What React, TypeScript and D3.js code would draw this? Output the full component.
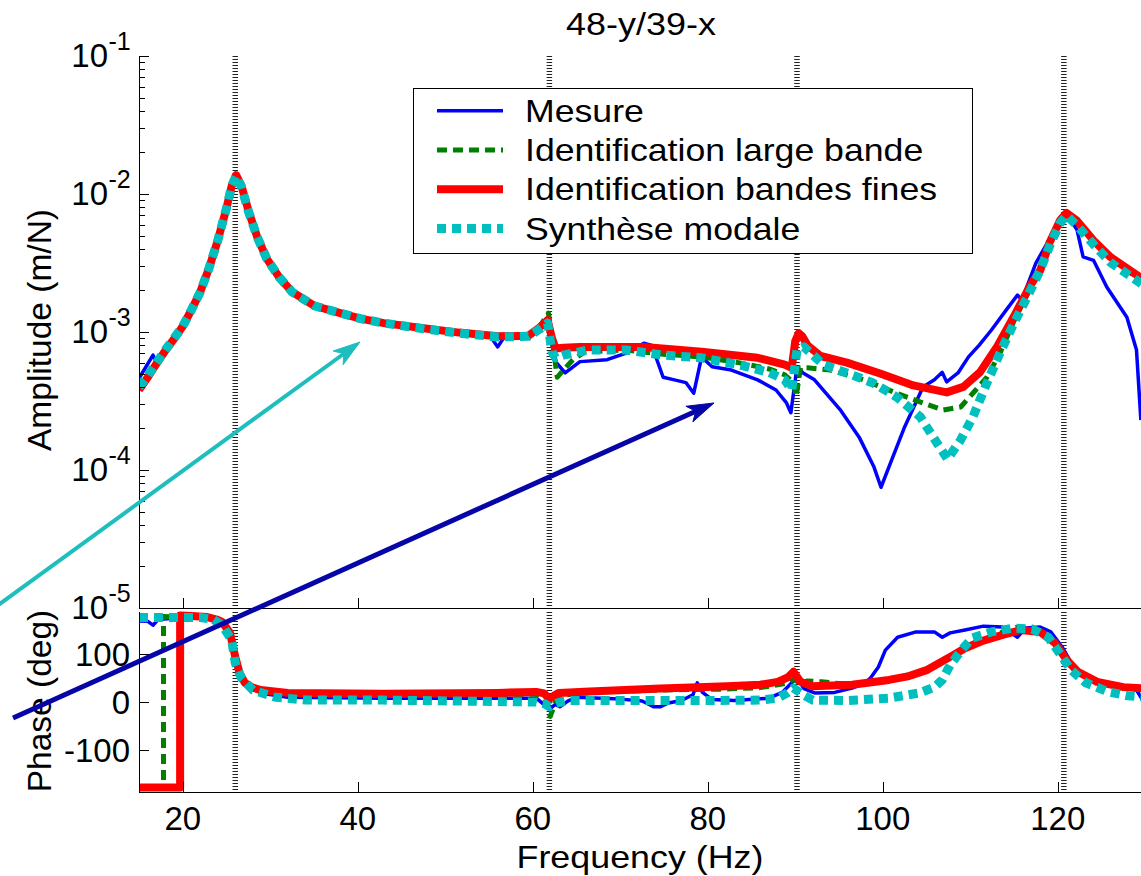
import React from 'react';
import * as d3 from 'd3';

type P = [number, number];

// ---------- data (frequency Hz, amplitude m/N) ----------
const AMP_MESURE: P[] = [
  [15, 4.6e-4], [15.8, 5.6e-4], [16.6, 6.8e-4], [17.1, 5.8e-4], [18, 7.3e-4], [19, 9.0e-4],
  [20, 1.12e-3], [21, 1.47e-3], [22, 1.97e-3], [23, 2.9e-3], [24, 4.6e-3], [25, 7.9e-3],
  [25.6, 1.15e-2], [26.1, 1.37e-2], [26.7, 1.15e-2], [27.5, 7.6e-3], [28.5, 4.9e-3],
  [29.6, 3.4e-3], [31, 2.5e-3], [32.5, 1.95e-3], [35, 1.56e-3], [37.5, 1.41e-3],
  [40.3, 1.26e-3], [43, 1.17e-3], [47.3, 1.06e-3], [51.6, 9.8e-4], [55.2, 9.2e-4],
  [56, 7.8e-4], [56.7, 9.1e-4], [59.5, 9.3e-4], [60.8, 1.07e-3], [61.7, 1.2e-3],
  [62.2, 8.0e-4], [62.7, 6.0e-4], [63.7, 5.05e-4], [65.4, 6.1e-4], [68.5, 6.3e-4],
  [70.6, 7.0e-4], [72.7, 8.3e-4], [73.6, 8.0e-4], [74.9, 4.7e-4], [76.2, 4.5e-4],
  [77.5, 4.3e-4], [78.4, 3.6e-4], [79.3, 6.6e-4], [80.5, 5.6e-4], [82.7, 5.3e-4],
  [85.7, 4.5e-4], [87.8, 3.8e-4], [89, 3.06e-4], [89.5, 2.6e-4], [90.2, 5.6e-4],
  [90.9, 5.05e-4], [92.2, 4.5e-4], [95.2, 2.7e-4], [97.3, 1.73e-4], [99, 1.05e-4],
  [99.8, 7.5e-5], [100.7, 1.05e-4], [102.5, 2.05e-4], [104.6, 4.0e-4], [105.9, 4.5e-4],
  [106.8, 5.1e-4], [107.3, 4.35e-4], [108.6, 5.05e-4], [109.8, 6.6e-4], [111, 8.0e-4],
  [112.4, 1.03e-3], [114.1, 1.44e-3], [115.4, 1.85e-3], [115.9, 1.71e-3], [117.5, 3.16e-3],
  [119, 4.64e-3], [121, 7.28e-3], [121.6, 6.3e-3], [122.2, 5.5e-3], [122.9, 3.5e-3],
  [124.1, 3.3e-3], [125.6, 2.12e-3], [127.9, 1.28e-3], [129, 7.4e-4], [129.5, 2.3e-4],
];

const AMP_LARGE: P[] = [
  [15, 3.9e-4], [16, 4.7e-4], [17, 5.9e-4], [18, 7.3e-4], [19, 8.9e-4], [20, 1.1e-3],
  [21, 1.45e-3], [22, 1.95e-3], [23, 2.9e-3], [24, 4.6e-3], [25, 7.9e-3], [25.6, 1.15e-2],
  [26.1, 1.37e-2], [26.7, 1.15e-2], [27.5, 7.6e-3], [28.5, 4.9e-3], [29.6, 3.4e-3],
  [31, 2.5e-3], [32.5, 1.95e-3], [35, 1.55e-3], [37.5, 1.4e-3], [40.3, 1.25e-3],
  [43, 1.16e-3], [47.3, 1.07e-3], [51.6, 9.9e-4], [56, 9.3e-4], [59.5, 9.4e-4],
  [60.8, 1.1e-3], [61.8, 1.37e-3], [62.3, 8.0e-4], [62.8, 4.7e-4], [63.5, 5.3e-4],
  [64.6, 6.3e-4], [66, 7.2e-4], [70.6, 7.4e-4], [74.9, 6.9e-4], [79.3, 6.6e-4],
  [83.5, 6.0e-4], [87, 5.4e-4], [88.8, 4.9e-4], [89.8, 4.3e-4], [90.1, 3.4e-4],
  [90.6, 5.5e-4], [91.4, 5.5e-4], [94, 5.3e-4], [97.8, 4.5e-4], [101.6, 3.6e-4],
  [104.6, 3.06e-4], [106.9, 2.72e-4], [108.9, 2.86e-4], [110.3, 3.6e-4], [111.9, 4.7e-4],
  [113.4, 7.05e-4], [115, 1.2e-3], [116.9, 2.1e-3], [118, 2.8e-3], [119.1, 4.5e-3],
  [120.3, 6.4e-3], [121, 7.2e-3], [122.2, 6.3e-3], [124.1, 4.5e-3], [126, 3.4e-3],
  [129.4, 2.4e-3], [130, 2.3e-3],
];

const AMP_FINES: P[] = [
  [15, 3.8e-4], [16, 4.7e-4], [17, 5.9e-4], [18, 7.3e-4], [19, 8.9e-4], [20, 1.1e-3],
  [21, 1.45e-3], [22, 1.95e-3], [23, 2.9e-3], [24, 4.6e-3], [25, 7.9e-3], [25.6, 1.15e-2],
  [26.1, 1.37e-2], [26.7, 1.15e-2], [27.5, 7.6e-3], [28.5, 4.9e-3], [29.6, 3.4e-3],
  [31, 2.5e-3], [32.5, 1.95e-3], [35, 1.55e-3], [37.5, 1.4e-3], [40.3, 1.25e-3],
  [43, 1.16e-3], [47.3, 1.07e-3], [51.6, 9.9e-4], [56, 9.3e-4], [59.5, 9.4e-4],
  [60.8, 1.08e-3], [61.7, 1.22e-3], [62.2, 9.0e-4], [62.6, 7.6e-4], [63.5, 7.7e-4],
  [65.4, 7.8e-4], [72.7, 7.8e-4], [79.3, 7.2e-4], [85.7, 6.5e-4], [88.8, 5.8e-4],
  [89.6, 5.5e-4], [90.0, 8.6e-4], [90.4, 9.8e-4], [90.8, 9.3e-4], [91.4, 8.0e-4],
  [92.9, 6.7e-4], [95.9, 6.0e-4], [99.7, 5.0e-4], [103.5, 4.1e-4], [107.3, 3.65e-4],
  [109.2, 4.0e-4], [111.1, 5.1e-4], [113.1, 7.9e-4], [115, 1.3e-3], [116.9, 2.2e-3],
  [118, 2.8e-3], [119.1, 4.5e-3], [120.3, 6.5e-3], [121.0, 7.3e-3], [122.2, 6.4e-3],
  [124.1, 4.6e-3], [126, 3.5e-3], [129.4, 2.5e-3], [130, 2.35e-3],
];

const AMP_SYNTH: P[] = [
  [15, 4.0e-4], [16, 4.8e-4], [17, 6.0e-4], [18, 7.4e-4], [19, 9.0e-4], [20, 1.1e-3],
  [21, 1.45e-3], [22, 1.95e-3], [23, 2.9e-3], [24, 4.6e-3], [25, 7.9e-3], [25.6, 1.15e-2],
  [26.1, 1.35e-2], [26.7, 1.13e-2], [27.5, 7.5e-3], [28.5, 4.9e-3], [29.6, 3.4e-3],
  [31, 2.5e-3], [32.5, 1.95e-3], [35, 1.55e-3], [37.5, 1.4e-3], [40.3, 1.25e-3],
  [43, 1.16e-3], [47.3, 1.06e-3], [51.6, 9.8e-4], [56, 9.2e-4], [59.5, 9.3e-4],
  [60.8, 1.05e-3], [61.7, 1.16e-3], [62.2, 7.2e-4], [62.6, 6.5e-4], [63.5, 6.8e-4],
  [66.3, 7.4e-4], [70.6, 7.4e-4], [74.9, 6.8e-4], [79.3, 6.5e-4], [83.5, 5.8e-4],
  [87, 5.1e-4], [88.8, 4.5e-4], [89.6, 3.8e-4], [90.2, 7.4e-4], [91, 7.8e-4],
  [93.2, 5.8e-4], [95.9, 5.05e-4], [98.9, 4.27e-4], [101.6, 3.38e-4], [104.3, 2.42e-4],
  [106.2, 1.57e-4], [107.4, 1.2e-4], [108.9, 1.65e-4], [110.3, 2.42e-4], [111.9, 4.27e-4],
  [113.4, 7.05e-4], [115, 1.16e-3], [116.5, 1.79e-3], [118, 2.81e-3], [119.2, 4.4e-3],
  [120.3, 6.2e-3], [121, 7.0e-3], [122.2, 5.9e-3], [124.1, 4.3e-3], [126, 3.2e-3],
  [129.4, 2.27e-3], [130, 2.12e-3],
];

// ---------- data (frequency Hz, phase deg) ----------
const PH_MESURE: P[] = [
  [15, 169], [16, 168], [16.6, 160], [17.2, 172], [20, 176], [22.5, 176], [23.5, 172],
  [24.5, 163], [25.6, 135], [26, 88], [26.6, 55], [27.5, 33], [29, 18], [32, 10],
  [42.9, 8], [56, 8], [60.4, 8], [61.9, -15], [62.6, -5], [63.1, -10], [64, 2], [65, 10],
  [70, 6], [72.5, 2], [73.8, -10], [74.6, -10], [75.5, -2], [77, 3], [78.3, 15],
  [78.8, 40], [79.4, 20], [80.5, 5], [83, 3], [87, 8], [88.5, 20], [89.6, 40], [90.2, 50],
  [91, 28], [92.2, 19], [94.5, 20], [96.5, 29], [98, 40], [98.6, 50], [99.5, 73],
  [100.3, 108], [101.7, 135], [103.8, 146], [105.9, 146], [106.8, 135], [107.7, 144],
  [109.4, 150], [111.5, 158], [113.7, 156], [115.4, 135], [116.3, 154], [118, 156],
  [119.2, 146], [120.6, 112], [122, 67], [124, 46], [127, 32], [129, 25], [130, -5],
];

const PH_LARGE: P[] = [
  [15, -178], [17.8, -178], [17.8, 178], [22, 177], [24, 171], [24.5, 166], [25.4, 142],
  [26, 92], [26.5, 58], [27.1, 38], [28, 28], [28.9, 22], [32, 16], [42.9, 14], [56, 16],
  [60.4, 16], [61.4, 5], [62, -30], [62.6, 0], [63.5, 14], [66.5, 20], [74.6, 25],
  [82.2, 27], [86, 30], [88, 36], [89.2, 40], [89.8, 48], [90.6, 38], [91.4, 44],
  [93, 42], [96.5, 36], [100.7, 46], [105.1, 67], [107.7, 94], [109.4, 112], [111.5, 130],
  [113.7, 146], [115.4, 156], [118, 148], [119.7, 123], [121, 88], [122.3, 62],
  [124.5, 42], [127.5, 31], [130, 28],
];

const PH_FINES: P[] = [
  [15, -178], [19.7, -178], [19.7, 180], [21, 179], [22.8, 177], [24, 171], [24.5, 167],
  [25.4, 144], [26, 94], [26.5, 60], [27.1, 40], [28, 30], [28.9, 25], [32, 19],
  [42.9, 17], [56, 19], [60.4, 21], [61.3, 18], [61.9, 6], [62.5, 14], [63, 19],
  [66.5, 22], [74.6, 28], [82.2, 33], [86, 36], [88, 42], [89.2, 52], [89.8, 63],
  [90.6, 42], [92, 33], [96.5, 36], [100.7, 46], [103, 54], [105.1, 67], [107.7, 94],
  [109.4, 112], [111.5, 128], [113.7, 140], [115.8, 150], [118, 146], [119.7, 123],
  [121, 88], [122.3, 63], [124.5, 42], [127.5, 31], [130, 28],
];

const PH_SYNTH: P[] = [
  [15, 176], [22, 176], [23.5, 172], [24.5, 160], [25.6, 129], [26, 81], [26.7, 50],
  [28, 25], [30.6, 10], [34.1, 4], [42.9, 4], [56, 1], [60.4, 0], [61.4, -4], [61.9, -10],
  [62.5, -4], [63, -1], [64, 3], [70, 3], [80, 3], [86, 4], [88, 8], [89.1, 19],
  [89.8, 29], [90.9, 15], [92, 4], [96, 3], [100.7, 8], [104.2, 19], [105.9, 31],
  [106.8, 46], [107.7, 77], [109, 108], [110.2, 133], [112.4, 146], [115, 154],
  [117.1, 152], [118.9, 135], [120.2, 102], [121.5, 67], [123.2, 40], [125.8, 21],
  [128, 13], [130, 10],
];

const MODE_FREQS = [26.0, 61.9, 90.2, 120.7];
const X_TICKS = [20, 40, 60, 80, 100, 120];
const AMP_DECADES = [1e-5, 1e-4, 1e-3, 1e-2, 1e-1];
const AMP_EXPONENTS = ['-5', '-4', '-3', '-2', '-1'];
const PHASE_TICKS = [-100, 0, 100];
const LEGEND_LABELS = ['Mesure', 'Identification large bande', 'Identification bandes fines', 'Synthèse modale'];
const TITLE = '48-y/39-x';
const X_LABEL = 'Frequency (Hz)';
const Y_LABEL_AMP = 'Amplitude (m/N)';
const Y_LABEL_PH = 'Phase (deg)';
// annotation arrows in figure-normalised units: x1, y1, x2 (tip), y2 (tip)
const ARROW_CYAN = [-0.0088, 0.6975, 0.3155, 0.3904];
const ARROW_NAVY = [0.0114, 0.8196, 0.6258, 0.4600];

// ---------- layout ----------
const W = 1141;
const H = 876;
const AX_L = 139;
const AX_R = 1145.25;
const AMP_T = 56;
const AMP_B = 608;
const PH_T = 612;
const PH_B = 792;
const FONT = 'Liberation Sans, Arial, Helvetica, sans-serif';

const SERIES = [
  { color: '#0000ff', width: 3.5, dash: undefined as string | undefined },
  { color: '#008000', width: 5, dash: '10 6' },
  { color: '#ff0000', width: 8, dash: undefined as string | undefined },
  { color: '#00bfbf', width: 9, dash: '9 6' },
];

function arrowParts(a: number[], color: string, width: number) {
  const x1 = a[0] * W, y1 = a[1] * H, x2 = a[2] * W, y2 = a[3] * H;
  const dx = x2 - x1, dy = y2 - y1;
  const L = Math.hypot(dx, dy);
  const ux = dx / L, uy = dy / L;
  const nx = -uy, ny = ux;
  const len = 27, hw = 8.5, notch = 7;
  const bx = x2 - ux * len, by = y2 - uy * len;
  const mx = x2 - ux * (len - notch), my = y2 - uy * (len - notch);
  const pts = [[x2, y2], [bx + nx * hw, by + ny * hw], [mx, my], [bx - nx * hw, by - ny * hw]];
  return (
    <g>
      <line x1={x1} y1={y1} x2={mx} y2={my} stroke={color} strokeWidth={width} />
      <polygon points={pts.map((p) => p.join(',')).join(' ')} fill={color} stroke={color} strokeWidth={1} />
    </g>
  );
}

export default function App() {
  const x = d3.scaleLinear().domain([15, 130]).range([AX_L, AX_R]);
  const yA = d3.scaleLog().domain([1e-5, 1e-1]).range([AMP_B, AMP_T]);
  const yP = d3.scaleLinear().domain([-187.5, 187.5]).range([PH_B, PH_T]);

  const lineA = d3.line<P>().x((d) => x(d[0])).y((d) => yA(d[1]));
  const lineP = d3.line<P>().x((d) => x(d[0])).y((d) => yP(d[1]));

  const ampSets = [AMP_MESURE, AMP_LARGE, AMP_FINES, AMP_SYNTH];
  const phSets = [PH_MESURE, PH_LARGE, PH_FINES, PH_SYNTH];

  const minor: number[] = [];
  AMP_DECADES.slice(0, 4).forEach((d) => {
    for (let k = 2; k <= 9; k++) minor.push(k * d);
  });

  const legX = 413, legY = 88, legW = 559, legH = 165;
  const rowY = [110.7, 150, 189.3, 228.6];

  return (
    <svg width={W} height={H} style={{ position: 'absolute', left: 0, top: 0, background: '#fff' }}
      fontFamily={FONT}>
      <defs>
        <clipPath id="clipA"><rect x={AX_L} y={AMP_T - 6} width={AX_R - AX_L} height={AMP_B - AMP_T + 6} /></clipPath>
        <clipPath id="clipP"><rect x={AX_L} y={PH_T - 4} width={AX_R - AX_L} height={PH_B - PH_T + 4} /></clipPath>
      </defs>
      <rect x={0} y={0} width={W} height={H} fill="#fff" />

      {/* mode markers */}
      {MODE_FREQS.map((f, i) => (
        <g key={'m' + i} stroke="#222" strokeWidth={5.5} strokeDasharray="1 2">
          <line x1={x(f)} x2={x(f)} y1={AMP_T} y2={AMP_B} />
          <line x1={x(f)} x2={x(f)} y1={PH_T} y2={PH_B} />
        </g>
      ))}

      {/* amplitude curves */}
      <g clipPath="url(#clipA)" fill="none" strokeLinejoin="round">
        {ampSets.map((s, i) => (
          <path key={'a' + i} d={lineA(s) || ''} stroke={SERIES[i].color} strokeWidth={SERIES[i].width}
            strokeDasharray={SERIES[i].dash} />
        ))}
      </g>
      {/* phase curves */}
      <g clipPath="url(#clipP)" fill="none" strokeLinejoin="round">
        {phSets.map((s, i) => (
          <path key={'p' + i} d={lineP(s) || ''} stroke={SERIES[i].color} strokeWidth={SERIES[i].width}
            strokeDasharray={SERIES[i].dash} />
        ))}
      </g>

      {/* axes: amplitude */}
      <g stroke="#000" strokeWidth={1} fill="none">
        <line x1={AX_L + 0.5} x2={AX_L + 0.5} y1={AMP_T} y2={AMP_B} />
        <line x1={AX_L} x2={AX_R} y1={AMP_B + 0.5} y2={AMP_B + 0.5} />
        {X_TICKS.map((t) => (
          <line key={'xa' + t} x1={Math.round(x(t)) + 0.5} x2={Math.round(x(t)) + 0.5} y1={AMP_B} y2={AMP_B - 10} />
        ))}
        {AMP_DECADES.map((d) => (
          <line key={'yd' + d} x1={AX_L} x2={AX_L + 10} y1={Math.round(yA(d)) + 0.5} y2={Math.round(yA(d)) + 0.5} />
        ))}
        {minor.map((d, i) => (
          <line key={'ym' + i} x1={AX_L} x2={AX_L + 6} y1={Math.round(yA(d)) + 0.5} y2={Math.round(yA(d)) + 0.5} />
        ))}
      </g>
      {/* axes: phase */}
      <g stroke="#000" strokeWidth={1} fill="none">
        <line x1={AX_L + 0.5} x2={AX_L + 0.5} y1={PH_T} y2={PH_B} />
        <line x1={AX_L} x2={AX_R} y1={PH_B + 0.5} y2={PH_B + 0.5} />
        {X_TICKS.map((t) => (
          <line key={'xp' + t} x1={Math.round(x(t)) + 0.5} x2={Math.round(x(t)) + 0.5} y1={PH_B} y2={PH_B - 10} />
        ))}
        {PHASE_TICKS.map((t) => (
          <line key={'yp' + t} x1={AX_L} x2={AX_L + 10} y1={Math.round(yP(t)) + 0.5} y2={Math.round(yP(t)) + 0.5} />
        ))}
      </g>

      {/* tick labels */}
      <g fill="#000">
        {AMP_DECADES.map((d, i) => (
          <g key={'ld' + i}>
            <text x={108} y={yA(d) + 11} fontSize={33} textAnchor="end">10</text>
            <text x={108.5} y={yA(d) - 6} fontSize={25} textAnchor="start">{AMP_EXPONENTS[i]}</text>
          </g>
        ))}
        {PHASE_TICKS.map((t) => (
          <text key={'lp' + t} x={130} y={yP(t) + 12} fontSize={33} textAnchor="end">{t}</text>
        ))}
        {X_TICKS.map((t) => (
          <text key={'lx' + t} x={x(t)} y={830} fontSize={33} textAnchor="middle">{t}</text>
        ))}
      </g>

      {/* labels */}
      <text transform={`translate(641,35) scale(1.16,1)`} fontSize={31} textAnchor="middle">{TITLE}</text>
      <text transform={`translate(640,868) scale(1.12,1)`} fontSize={32} textAnchor="middle">{X_LABEL}</text>
      <text transform={`translate(51,330) rotate(-90)`} fontSize={33.5} textAnchor="middle">{Y_LABEL_AMP}</text>
      <text transform={`translate(51,701) rotate(-90)`} fontSize={33.5} textAnchor="middle">{Y_LABEL_PH}</text>

      {/* legend */}
      <rect x={legX + 0.5} y={legY + 0.5} width={legW} height={legH} fill="#fff" stroke="#000" strokeWidth={1} />
      {LEGEND_LABELS.map((lab, i) => (
        <g key={'lg' + i}>
          <line x1={437} x2={503} y1={rowY[i]} y2={rowY[i]} stroke={SERIES[i].color}
            strokeWidth={SERIES[i].width} strokeDasharray={SERIES[i].dash} />
          <text transform={`translate(525,${rowY[i] + 11}) scale(1.15,1)`} fontSize={31}>{lab}</text>
        </g>
      ))}

      {/* annotation arrows */}
      {arrowParts(ARROW_CYAN, '#1ebebe', 4)}
      {arrowParts(ARROW_NAVY, '#0606a8', 5)}
    </svg>
  );
}
